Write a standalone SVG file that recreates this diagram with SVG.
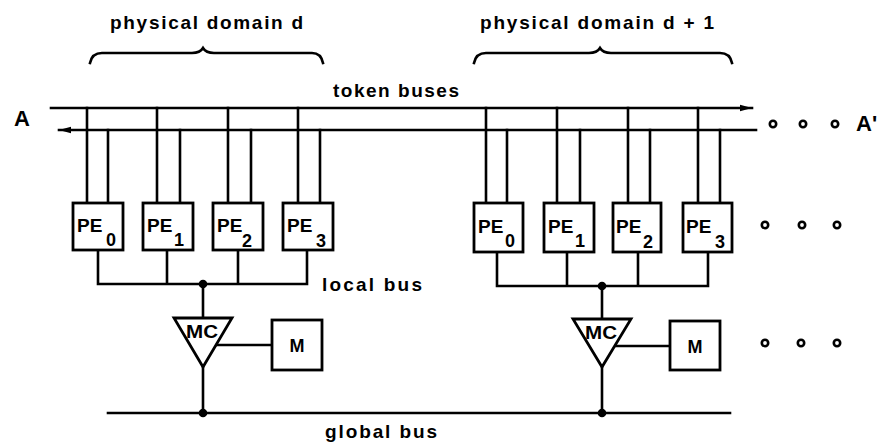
<svg xmlns="http://www.w3.org/2000/svg" width="877" height="447" viewBox="0 0 877 447">
<style>
  .ln { stroke:#000; stroke-width:2.6; fill:none; stroke-linecap:square; }
  .box { stroke:#000; stroke-width:2.8; fill:#fff; }
  .lbl { font-family:"Liberation Sans", Arial, sans-serif; font-weight:bold; fill:#000; }
  .big { font-size:19px; }
  .pe { font-size:19px; }
  .sub { font-size:18px; }
  .dot { fill:#000; }
  .ring { fill:#fff; stroke:#000; stroke-width:2.6; }
</style>
<defs>
  <marker id="ah" markerWidth="12" markerHeight="8" refX="12" refY="4" orient="auto" markerUnits="userSpaceOnUse">
    <path d="M0,0.8 L12,4 L0,7.2 z" fill="#000"/>
  </marker>
</defs>
<rect width="877" height="447" fill="#fff"/>

<g id="labels">
  <text class="lbl big" x="110" y="29" textLength="193" lengthAdjust="spacing">physical domain d</text>
  <text class="lbl big" x="480" y="29" textLength="234" lengthAdjust="spacing">physical domain d + 1</text>
  <text class="lbl big" x="333" y="97" textLength="126" lengthAdjust="spacing">token buses</text>
  <text class="lbl big" x="322" y="291" textLength="100" lengthAdjust="spacing">local bus</text>
  <text class="lbl big" x="325" y="438" textLength="112" lengthAdjust="spacing">global bus</text>
  <text class="lbl" x="14" y="126" font-size="22">A</text>
  <text class="lbl" x="856" y="131" font-size="22">A'</text>
</g>

<g id="braces">
  <path class="ln" stroke-width="2.3" d="M90,63 Q92,53 102,53 L192,53 Q200,53 203,48 Q206,53 214,53 L312,53 Q321,53 323,63"/>
  <path class="ln" stroke-width="2.3" d="M474,63 Q476,53 486,53 L589,53 Q597,53 600,48 Q603,53 611,53 L720,53 Q730,53 732,63"/>
</g>

<g id="connectors">
  <!-- token buses -->
  <path class="ln" stroke-linecap="butt" d="M51,108 L752,108" marker-end="url(#ah)"/>
  <path class="ln" stroke-linecap="butt" d="M756,130 L59,130" marker-end="url(#ah)"/>
  <!-- token bus drops, domain d -->
  <path class="ln" d="M87,108 V203 M108,130 V203 M157,108 V203 M180,130 V203 M228,108 V203 M251,130 V203 M298,108 V203 M320,130 V203"/>
  <!-- token bus drops, domain d+1 -->
  <path class="ln" d="M486,108 V203 M507,130 V203 M557,108 V203 M580,130 V203 M628,108 V203 M650,130 V203 M698,108 V203 M720,130 V203"/>
  <!-- local bus d -->
  <path class="ln" d="M98,250 V284 H307 V250 M167,250 V284 M238,250 V284 M203,284 V318"/>
  <!-- local bus d+1 -->
  <path class="ln" d="M497,252 V286 H708 V252 M567,252 V286 M638,252 V286 M602,286 V319"/>
  <!-- MC to global bus and to M -->
  <path class="ln" d="M203,367 V413 M602,367 V413"/>
  <path class="ln" stroke-width="2" d="M216,345 H272 M615,346 H670"/>
  <!-- global bus -->
  <path class="ln" d="M108,413 H730"/>
  <circle class="dot" cx="203" cy="284" r="4.3"/>
  <circle class="dot" cx="602" cy="286" r="4.3"/>
  <circle class="dot" cx="203" cy="413" r="4.3"/>
  <circle class="dot" cx="602" cy="413" r="4.3"/>
</g>

<g id="pe0-d"><rect class="box" x="73" y="203" width="50" height="47"/><text class="lbl pe" x="77" y="232">PE</text><text class="lbl sub" x="106" y="246">0</text></g>
<g id="pe1-d"><rect class="box" x="143" y="203" width="50" height="47"/><text class="lbl pe" x="147" y="232">PE</text><text class="lbl sub" x="174" y="246">1</text></g>
<g id="pe2-d"><rect class="box" x="213" y="203" width="50" height="47"/><text class="lbl pe" x="217" y="232">PE</text><text class="lbl sub" x="242" y="247">2</text></g>
<g id="pe3-d"><rect class="box" x="283" y="203" width="50" height="47"/><text class="lbl pe" x="287" y="232">PE</text><text class="lbl sub" x="316" y="247">3</text></g>

<g id="pe0-d1"><rect class="box" x="474" y="203" width="49" height="49"/><text class="lbl pe" x="478" y="233">PE</text><text class="lbl sub" x="505" y="247">0</text></g>
<g id="pe1-d1"><rect class="box" x="544" y="203" width="50" height="49"/><text class="lbl pe" x="548" y="233">PE</text><text class="lbl sub" x="575" y="247">1</text></g>
<g id="pe2-d1"><rect class="box" x="613" y="203" width="48" height="49"/><text class="lbl pe" x="616" y="233">PE</text><text class="lbl sub" x="643" y="248">2</text></g>
<g id="pe3-d1"><rect class="box" x="683" y="203" width="49" height="49"/><text class="lbl pe" x="686" y="233">PE</text><text class="lbl sub" x="715" y="248">3</text></g>

<g id="mc-d"><path class="box" d="M174,318 H232 L203,367 Z"/><text class="lbl" x="186" y="338" font-size="18" textLength="32" lengthAdjust="spacingAndGlyphs">MC</text></g>
<g id="m-d"><rect class="box" x="272" y="320" width="50" height="50"/><text class="lbl" x="297" y="352" font-size="18" text-anchor="middle">M</text></g>
<g id="mc-d1"><path class="box" d="M573,319 H631 L602,367 Z"/><text class="lbl" x="585" y="339" font-size="18" textLength="32" lengthAdjust="spacingAndGlyphs">MC</text></g>
<g id="m-d1"><rect class="box" x="670" y="321" width="50" height="49"/><text class="lbl" x="695" y="353" font-size="18" text-anchor="middle">M</text></g>

<g id="ellipses">
  <circle class="ring" cx="773" cy="124" r="3.2"/>
  <circle class="ring" cx="803" cy="124" r="3.2"/>
  <circle class="ring" cx="835" cy="124" r="3.2"/>
  <circle class="ring" cx="765" cy="225" r="3.2"/>
  <circle class="ring" cx="802" cy="225" r="3.2"/>
  <circle class="ring" cx="837" cy="225" r="3.2"/>
  <circle class="ring" cx="765" cy="343" r="3.2"/>
  <circle class="ring" cx="801" cy="343" r="3.2"/>
  <circle class="ring" cx="837" cy="343" r="3.2"/>
</g>
</svg>
